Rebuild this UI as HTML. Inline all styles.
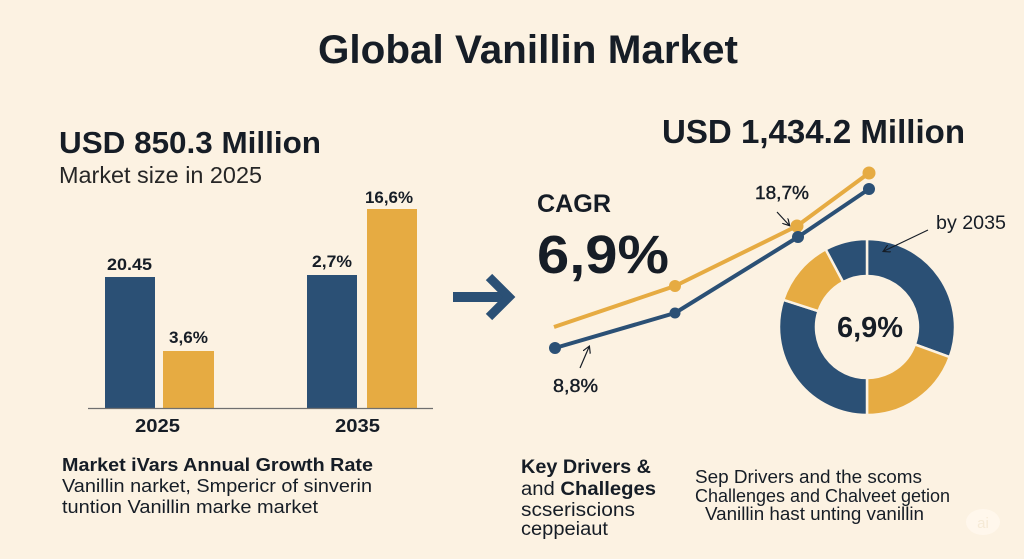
<!DOCTYPE html>
<html>
<head>
<meta charset="utf-8">
<style>
  html,body{margin:0;padding:0;background:#fcf2e2;}
  svg{display:block;}
  text{font-family:"Liberation Sans",Arial,sans-serif;fill:#161d26;}
  .b{font-weight:bold;}
</style>
</head>
<body>
<svg width="1024" height="559" viewBox="0 0 1024 559" xmlns="http://www.w3.org/2000/svg">
  <defs>
    <marker id="ah" markerWidth="8" markerHeight="8" refX="6" refY="4" orient="auto" markerUnits="userSpaceOnUse">
      <path d="M0,0 L7,4 L0,8" fill="none" stroke="#161d26" stroke-width="1.2"/>
    </marker>
  </defs>
  <rect width="1024" height="559" fill="#fcf2e2"/>

  <!-- Title -->
  <text x="318" y="63" class="b" font-size="40" textLength="420" lengthAdjust="spacingAndGlyphs">Global Vanillin Market</text>

  <!-- Left header -->
  <text x="59" y="153" class="b" font-size="31" textLength="262" lengthAdjust="spacingAndGlyphs">USD 850.3 Million</text>
  <text x="59" y="183" font-size="23" textLength="203" lengthAdjust="spacingAndGlyphs" style="fill:#262626">Market size in 2025</text>

  <!-- Bars -->
  <rect x="105" y="277" width="50" height="131" fill="#2b5075"/>
  <rect x="163" y="351" width="51" height="57" fill="#e6ab42"/>
  <rect x="307" y="275" width="50" height="133" fill="#2b5075"/>
  <rect x="367" y="209" width="50" height="199" fill="#e6ab42"/>
  <line x1="88" y1="408.5" x2="433" y2="408.5" stroke="#6f6f6f" stroke-width="1.2"/>

  <text x="107" y="270" class="b" font-size="17" textLength="45" lengthAdjust="spacingAndGlyphs">20.45</text>
  <text x="169" y="343" class="b" font-size="17" textLength="39" lengthAdjust="spacingAndGlyphs">3,6%</text>
  <text x="312" y="267" class="b" font-size="17" textLength="40" lengthAdjust="spacingAndGlyphs">2,7%</text>
  <text x="365" y="203" class="b" font-size="17" textLength="48" lengthAdjust="spacingAndGlyphs">16,6%</text>

  <text x="135" y="432" class="b" font-size="18" textLength="45" lengthAdjust="spacingAndGlyphs">2025</text>
  <text x="335" y="432" class="b" font-size="18" textLength="45" lengthAdjust="spacingAndGlyphs">2035</text>

  <!-- Big arrow -->
  <line x1="453" y1="297" x2="503" y2="297" stroke="#2b5075" stroke-width="10"/>
  <polyline points="489,277 509,297 489,317" fill="none" stroke="#2b5075" stroke-width="9" stroke-linejoin="miter"/>

  <!-- CAGR -->
  <text x="537" y="212" class="b" font-size="25" textLength="74" lengthAdjust="spacingAndGlyphs">CAGR</text>
  <text x="537" y="273" class="b" font-size="54" textLength="132" lengthAdjust="spacingAndGlyphs">6,9%</text>

  <!-- Right header -->
  <text x="662" y="143" class="b" font-size="33" textLength="303" lengthAdjust="spacingAndGlyphs">USD 1,434.2 Million</text>

  <!-- Line chart -->
  <polyline points="554,327 675,286 797,226 869,173" fill="none" stroke="#e6ab42" stroke-width="4" stroke-linejoin="round"/>
  <circle cx="675" cy="286" r="6" fill="#e6ab42"/>
  <circle cx="797" cy="226" r="6.5" fill="#e6ab42"/>
  <circle cx="869" cy="173" r="6.5" fill="#e6ab42"/>

  <polyline points="555,348 675,313 798,237 869,189" fill="none" stroke="#2b5075" stroke-width="4" stroke-linejoin="round"/>
  <circle cx="555" cy="348" r="6" fill="#2b5075"/>
  <circle cx="675" cy="313" r="5.5" fill="#2b5075"/>
  <circle cx="798" cy="237" r="6" fill="#2b5075"/>
  <circle cx="869" cy="189" r="6" fill="#2b5075"/>

  <text x="755" y="199" font-size="18" textLength="54" lengthAdjust="spacingAndGlyphs" stroke="#161d26" stroke-width="0.4">18,7%</text>
  <line x1="777" y1="212" x2="789" y2="225" stroke="#161d26" stroke-width="1.2" marker-end="url(#ah)"/>

  <text x="553" y="392" font-size="18" textLength="45" lengthAdjust="spacingAndGlyphs" stroke="#161d26" stroke-width="0.4">8,8%</text>
  <line x1="580" y1="368" x2="589" y2="347" stroke="#161d26" stroke-width="1.2" marker-end="url(#ah)"/>

  <!-- Donut -->
  <g stroke="#fcf2e2" stroke-width="2.5" stroke-linejoin="miter">
    <path d="M867,239 A88,88 0 0 1 949.7,357.1 L914.9,344.4 A51,51 0 0 0 867,276 Z" fill="#2b5075"/>
    <path d="M949.7,357.1 A88,88 0 0 1 867,415 L867,378 A51,51 0 0 0 914.9,344.4 Z" fill="#e6ab42"/>
    <path d="M867,415 A88,88 0 0 1 783.3,299.8 L818.5,311.2 A51,51 0 0 0 867,378 Z" fill="#2b5075"/>
    <path d="M783.3,299.8 A88,88 0 0 1 825.7,249.3 L843.1,282.0 A51,51 0 0 0 818.5,311.2 Z" fill="#e6ab42"/>
    <path d="M825.7,249.3 A88,88 0 0 1 867,239 L867,276 A51,51 0 0 0 843.1,282.0 Z" fill="#2b5075"/>
  </g>
  <text x="837" y="337" class="b" font-size="29" textLength="66" lengthAdjust="spacingAndGlyphs">6,9%</text>

  <text x="936" y="229" font-size="19" textLength="70" lengthAdjust="spacingAndGlyphs">by 2035</text>
  <line x1="928" y1="230" x2="884" y2="251" stroke="#161d26" stroke-width="1.1" marker-end="url(#ah)"/>

  <!-- Bottom left text -->
  <text x="62" y="471" class="b" font-size="18" textLength="311" lengthAdjust="spacingAndGlyphs">Market iVars Annual Growth Rate</text>
  <text x="62" y="492" font-size="18" textLength="310" lengthAdjust="spacingAndGlyphs">Vanillin narket, Smpericr of sinverin</text>
  <text x="62" y="513" font-size="18" textLength="256" lengthAdjust="spacingAndGlyphs">tuntion Vanillin marke market</text>

  <!-- Bottom middle text -->
  <text x="521" y="473" class="b" font-size="19" textLength="130" lengthAdjust="spacingAndGlyphs">Key Drivers &amp;</text>
  <text x="521" y="495" font-size="19" textLength="135" lengthAdjust="spacingAndGlyphs">and <tspan class="b" font-weight="bold">Challeges</tspan></text>
  <text x="521" y="516" font-size="19" textLength="114" lengthAdjust="spacingAndGlyphs">scseriscions</text>
  <text x="521" y="535" font-size="19" textLength="87" lengthAdjust="spacingAndGlyphs">ceppeiaut</text>

  <!-- Bottom right text -->
  <text x="695" y="483" font-size="18" textLength="227" lengthAdjust="spacingAndGlyphs">Sep Drivers and the scoms</text>
  <text x="695" y="502" font-size="18" textLength="255" lengthAdjust="spacingAndGlyphs">Challenges and Chalveet getion</text>
  <text x="705" y="520" font-size="18" textLength="219" lengthAdjust="spacingAndGlyphs">Vanillin hast unting vanillin</text>

  <!-- Watermark -->
  <ellipse cx="983" cy="522" rx="17" ry="13" fill="#fff7ec"/>
  <text x="983" y="528" font-size="15" text-anchor="middle" style="fill:#f6ead6">ai</text>
</svg>
</body>
</html>
